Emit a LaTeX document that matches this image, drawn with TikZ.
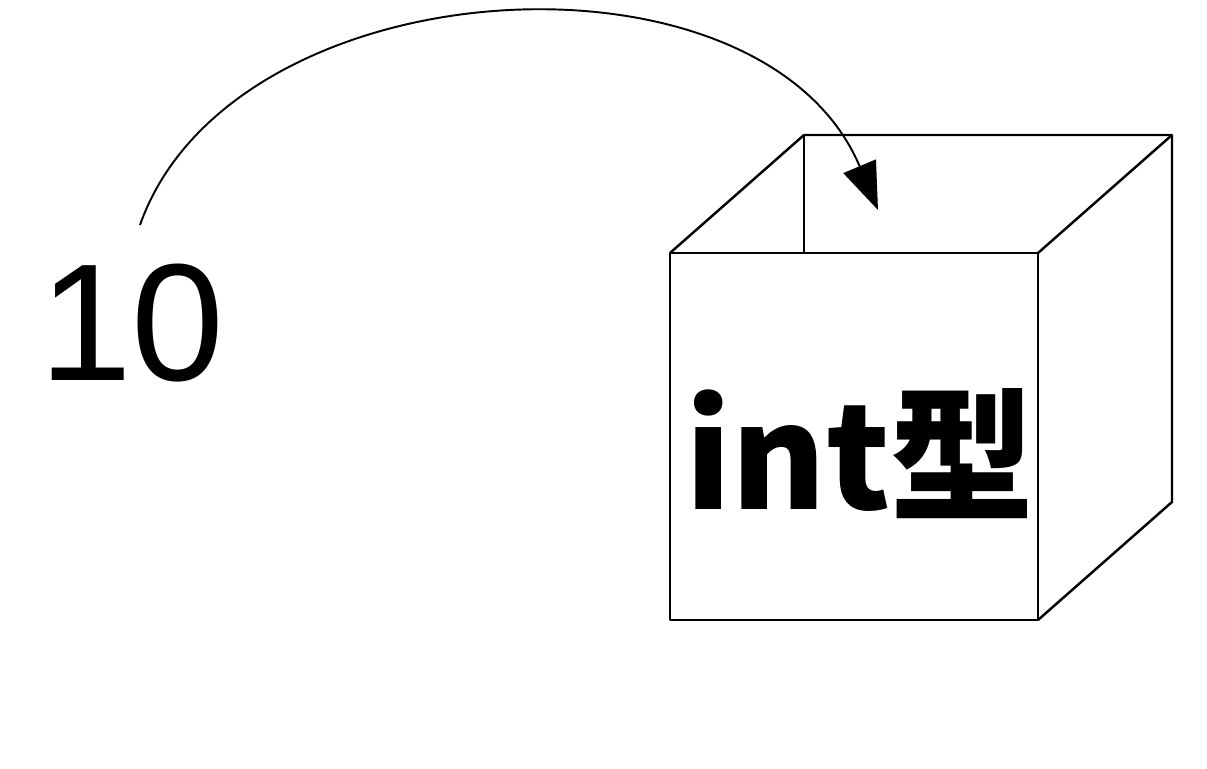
\documentclass[tikz,border=0pt]{standalone}
\usepackage{fontspec}
\setmainfont{Liberation Sans}
\newfontfamily\cjk{Noto Sans CJK JP}
\usetikzlibrary{arrows.meta}

\begin{document}
\begin{tikzpicture}[x=0.02cm, y=-0.02cm]
	\def\X{670}
	\def\Y{253}
	\def\W{368}
	\def\H{367}
	\def\DX{134}
	\def\DY{118}

	\useasboundingbox (0,0) rectangle (1207,768);

	% box
	\draw[line width=1.4pt, line join=round]	(\X,\Y) rectangle ++(\W,\H);
	\draw[line width=1.4pt, line join=round]	(\X,\Y) --++ (\DX,-\DY) --++ (\W,0) --++ (0,\H) --++ (-\DX,\DY);
	\draw[line width=1.4pt]	(\X+\W,\Y) --++ (\DX,-\DY);
	\draw[line width=1.4pt]	(\X+\DX,\Y-\DY) --++ (0,\DY);

	\node[inner sep=0pt, font=\fontsize{95}{95}\selectfont] (ten) at (132,323) {10};
	\node[inner sep=0pt, font=\cjk\bfseries\fontsize{82}{82}\selectfont] (type) at (860,454) {int型};

	\coordinate (lift) at (140,225);
	\coordinate (drop) at (878,210);
	\draw[line width=1.1pt, -{Triangle[length=9.5mm, width=7mm]}]	(lift) .. controls (232,-36) and (762,-66) .. (drop);
\end{tikzpicture}
\end{document}
